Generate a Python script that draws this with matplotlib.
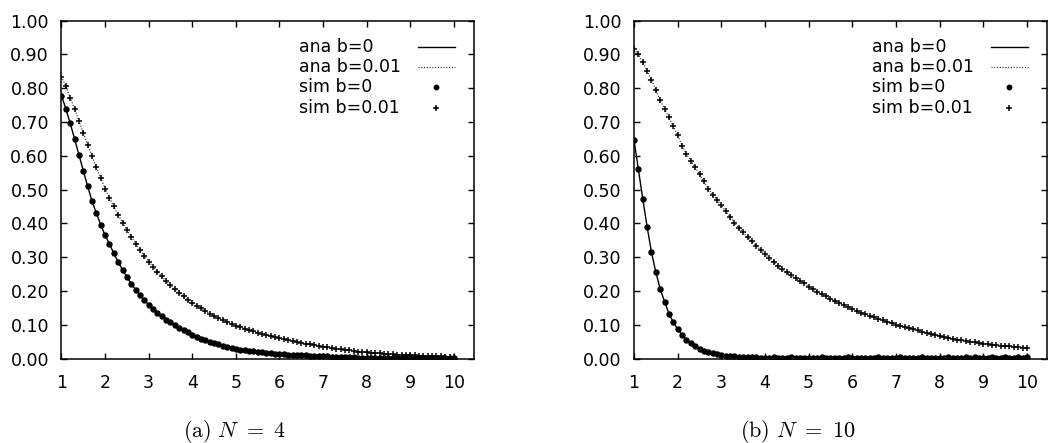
import numpy as np
import matplotlib
matplotlib.use("Agg")
import matplotlib.pyplot as plt

plt.rcParams['font.family'] = ['DejaVu Sans']
plt.rcParams['mathtext.fontset'] = 'cm'

# sample points t = 1.0, 1.1, ..., 10.0
t = np.arange(10, 101) / 10.0

# panel (a) N = 4
ana4_b0 = [0.778, 0.739, 0.696, 0.650, 0.603, 0.556, 0.510, 0.466, 0.430, 0.396,
           0.365, 0.339, 0.311, 0.286, 0.262, 0.241, 0.221, 0.204, 0.188, 0.173,
           0.159, 0.147, 0.135, 0.125, 0.115, 0.107, 0.099, 0.091, 0.084, 0.077,
           0.070, 0.064, 0.059, 0.054, 0.050, 0.046, 0.042, 0.038, 0.035, 0.031,
           0.029, 0.026, 0.024, 0.022, 0.021, 0.019, 0.018, 0.017, 0.015, 0.014,
           0.013, 0.012, 0.011, 0.011, 0.010, 0.009, 0.009, 0.008, 0.007, 0.007,
           0.006, 0.006, 0.005, 0.005, 0.005, 0.004, 0.004, 0.004, 0.003, 0.003,
           0.003, 0.003, 0.003, 0.002, 0.002, 0.002, 0.002, 0.002, 0.002, 0.002,
           0.001, 0.001, 0.001, 0.001, 0.001, 0.001, 0.001, 0.001, 0.001, 0.001,
           0.001]
ana4_b1 = [0.834, 0.805, 0.772, 0.739, 0.703, 0.668, 0.633, 0.598, 0.566, 0.534,
           0.503, 0.475, 0.450, 0.425, 0.402, 0.380, 0.360, 0.340, 0.322, 0.304,
           0.287, 0.272, 0.257, 0.243, 0.229, 0.217, 0.206, 0.194, 0.184, 0.174,
           0.164, 0.156, 0.148, 0.140, 0.133, 0.126, 0.119, 0.113, 0.108, 0.102,
           0.097, 0.093, 0.088, 0.084, 0.080, 0.076, 0.073, 0.070, 0.066, 0.063,
           0.060, 0.057, 0.054, 0.052, 0.049, 0.047, 0.044, 0.042, 0.040, 0.037,
           0.035, 0.033, 0.031, 0.029, 0.027, 0.026, 0.024, 0.022, 0.020, 0.019,
           0.018, 0.017, 0.016, 0.015, 0.014, 0.013, 0.012, 0.011, 0.011, 0.010,
           0.009, 0.009, 0.008, 0.008, 0.007, 0.007, 0.006, 0.006, 0.005, 0.005,
           0.005]
sim4_b0 = list(ana4_b0)
sim4_b1 = list(ana4_b1)

# panel (b) N = 10
ana10_b0 = [0.646, 0.560, 0.472, 0.390, 0.314, 0.255, 0.206, 0.168, 0.133, 0.107,
            0.087, 0.070, 0.056, 0.046, 0.037, 0.029, 0.023, 0.019, 0.015, 0.012,
            0.010, 0.008, 0.007, 0.006, 0.005, 0.005, 0.004, 0.004, 0.004, 0.004,
            0.003, 0.003, 0.003, 0.003, 0.003, 0.003, 0.003, 0.003, 0.003, 0.003,
            0.003, 0.003, 0.003, 0.003, 0.003, 0.003, 0.003, 0.003, 0.003, 0.003,
            0.003, 0.003, 0.003, 0.003, 0.003, 0.003, 0.003, 0.003, 0.003, 0.003,
            0.003, 0.003, 0.003, 0.003, 0.003, 0.003, 0.003, 0.003, 0.003, 0.003,
            0.003, 0.003, 0.003, 0.003, 0.003, 0.003, 0.003, 0.003, 0.003, 0.003,
            0.003, 0.003, 0.003, 0.003, 0.003, 0.003, 0.003, 0.003, 0.003, 0.003,
            0.003]
ana10_b1 = [0.915, 0.900, 0.877, 0.851, 0.824, 0.795, 0.764, 0.738, 0.714, 0.687,
            0.660, 0.630, 0.605, 0.585, 0.566, 0.545, 0.524, 0.503, 0.485, 0.470,
            0.453, 0.436, 0.419, 0.402, 0.386, 0.373, 0.360, 0.347, 0.334, 0.321,
            0.309, 0.297, 0.285, 0.273, 0.264, 0.255, 0.246, 0.238, 0.230, 0.222,
            0.213, 0.205, 0.197, 0.190, 0.184, 0.177, 0.171, 0.165, 0.158, 0.152,
            0.147, 0.141, 0.136, 0.131, 0.127, 0.122, 0.117, 0.113, 0.109, 0.105,
            0.100, 0.096, 0.093, 0.089, 0.086, 0.083, 0.079, 0.076, 0.072, 0.069,
            0.066, 0.063, 0.061, 0.059, 0.056, 0.054, 0.052, 0.050, 0.048, 0.046,
            0.044, 0.043, 0.041, 0.040, 0.038, 0.037, 0.036, 0.034, 0.033, 0.032,
            0.031]
sim10_b0 = [0.646, 0.560, 0.472, 0.390, 0.314, 0.255, 0.206, 0.168, 0.133, 0.107,
            0.087, 0.070, 0.056, 0.046, 0.037, 0.029, 0.023, 0.019, 0.015, 0.012,
            0.010, 0.008, 0.007, 0.006, 0.005, 0.005, 0.004, 0.004, 0.004, 0.003,
            0.003, 0.003, 0.004, 0.003, 0.003, 0.003, 0.004, 0.003, 0.003, 0.003,
            0.003, 0.003, 0.003, 0.004, 0.003, 0.003, 0.003, 0.003, 0.003, 0.004,
            0.003, 0.003, 0.003, 0.003, 0.003, 0.003, 0.004, 0.003, 0.003, 0.003,
            0.003, 0.004, 0.003, 0.003, 0.003, 0.003, 0.004, 0.003, 0.003, 0.003,
            0.003, 0.003, 0.004, 0.003, 0.003, 0.003, 0.004, 0.003, 0.004, 0.003,
            0.003, 0.003, 0.004, 0.003, 0.003, 0.004, 0.003, 0.003, 0.004, 0.003,
            0.004]
sim10_b1 = list(ana10_b1)

captions = ["$\\mathrm{(a)}\\ N\\ =\\ 4$", "$\\mathrm{(b)}\\ N\\ =\\ 10$"]
labels = ['ana b=0', 'ana b=0.01', 'sim b=0', 'sim b=0.01']

xticks = list(range(1, 11))
yticks = [0.0, 0.1, 0.2, 0.3, 0.4, 0.5, 0.6, 0.7, 0.8, 0.9, 1.0]

styles = [dict(color='black', lw=1.0),
          dict(color='#222222', lw=0.8, ls=(0, (1, 1.5))),
          dict(ls='none', marker='o', ms=3.6, color='black'),
          dict(ls='none', marker='+', ms=4.6, mew=1.1, color='black')]
key_ms = [None, None, 3.2, 4.0]

fig = plt.figure(figsize=(10.49, 4.43), dpi=100)
axes_rect = [[0.0586, 0.1907, 0.3932, 0.763], [0.6044, 0.1907, 0.3937, 0.763]]
caption_x = [0.224, 0.760]
data = [(ana4_b0, ana4_b1, sim4_b0, sim4_b1),
        (ana10_b0, ana10_b1, sim10_b0, sim10_b1)]

for i, series in enumerate(data):
    ax = fig.add_axes(axes_rect[i])
    for ys, st in zip(series, styles):
        ax.plot(t, ys, **st)

    ax.set_xlim(1, 10.46)
    ax.set_ylim(0, 1)
    ax.set_xticks(xticks)
    ax.set_yticks(yticks)
    ax.set_yticklabels(["%.2f" % v for v in yticks])
    ax.tick_params(direction='in', length=4, width=1, top=True, right=True,
                   labelsize=12.5, colors='black')
    ax.tick_params(axis='y', pad=9)
    ax.tick_params(axis='x', pad=11)
    for sp in ax.spines.values():
        sp.set_linewidth(1.1)

    # gnuplot-style key: left aligned text, sample on the right
    for k, (lab, st) in enumerate(zip(labels, styles)):
        yk = 0.922 - k * 0.06
        ax.text(0.577, yk, lab, transform=ax.transAxes, ha='left', va='center',
                fontsize=12.5)
        if st.get('ls') == 'none':
            kst = dict(st, ms=key_ms[k])
            ax.plot([0.908], [yk], transform=ax.transAxes, clip_on=False, **kst)
        else:
            ax.plot([0.864, 0.955], [yk, yk], transform=ax.transAxes, **st)

    fig.text(caption_x[i], 0.027, captions[i], ha='center', va='center', fontsize=16)

fig.savefig('out.png', dpi=100)
